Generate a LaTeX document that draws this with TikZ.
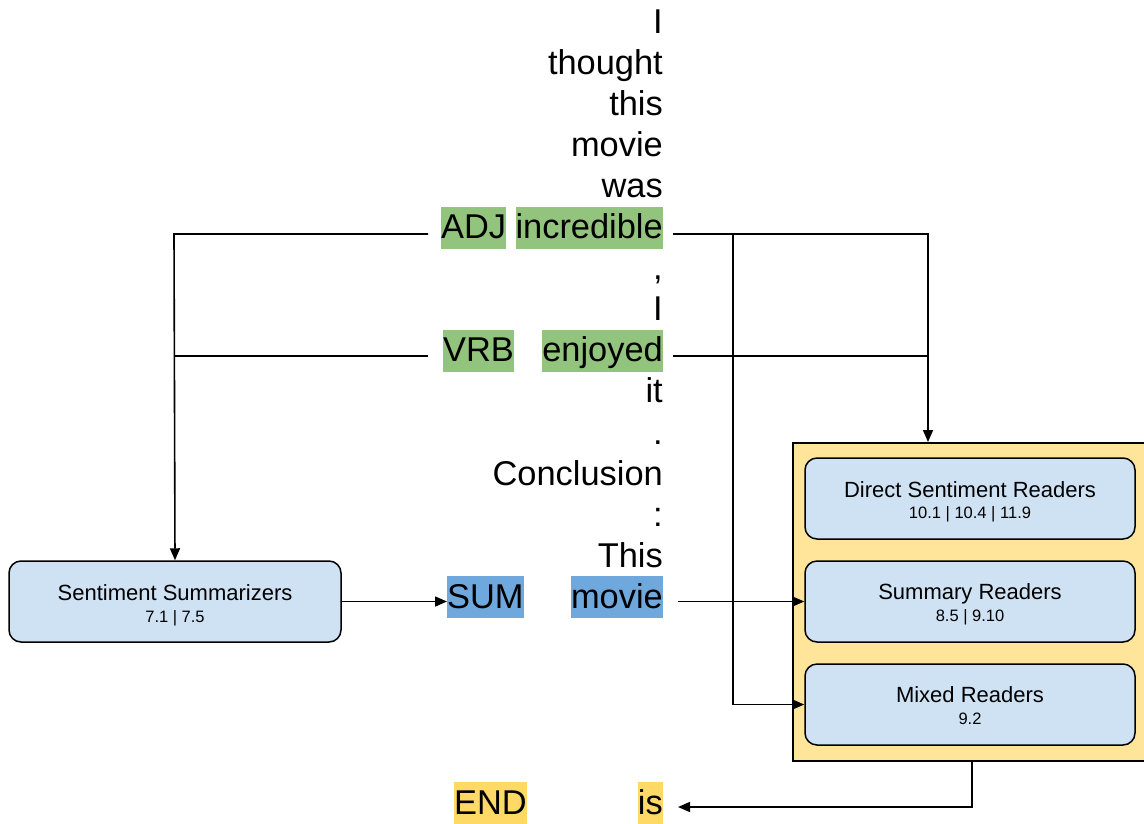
\documentclass[tikz,border=0pt]{standalone}
\usepackage{fontspec}
\setmainfont{Liberation Sans}
\usetikzlibrary{arrows.meta}
\definecolor{hlgreen}{HTML}{93C47D}
\definecolor{hlblue}{HTML}{6FA8DC}
\definecolor{hlyellow}{HTML}{FFD966}
\definecolor{contyellow}{HTML}{FFE599}
\definecolor{boxblue}{HTML}{CFE2F3}
\tikzset{
 word/.style={anchor=base east, inner sep=0pt, text height=32pt, text depth=10pt, font=\fontsize{34.4}{41}\selectfont},
 tag/.style={anchor=base west, inner sep=0pt, text height=32pt, text depth=10pt, font=\fontsize{34.4}{41}\selectfont},
 rbox/.style={draw=black, fill=boxblue, rounded corners=12pt, line width=1.5pt, minimum width=330pt, minimum height=81pt, inner sep=0pt},
 ttl/.style={anchor=base, inner sep=0pt, font=\fontsize{22}{26}\selectfont},
 nums/.style={anchor=base, inner sep=0pt, font=\fontsize{16.5}{20}\selectfont},
 conn/.style={line width=1.6pt},
 arr/.style={conn, -{Triangle[length=12pt,width=10pt]}},
}
\begin{document}
\begin{tikzpicture}[x=1pt,y=-1pt]
\useasboundingbox (0,0) rectangle (1144,823);
% container and boxes
\node[draw=black, fill=contyellow, line width=1.5pt, minimum width=358pt, minimum height=318pt, inner sep=0pt, anchor=north west] (cont) at (792,442) {};
\node[rbox] (dsr) at (970,498.5) {};
\node[ttl] (dsrT) at (970,497) {Direct Sentiment Readers};
\node[nums] (dsrN) at (970,518) {10.1 | 10.4 | 11.9};
\node[rbox] (sr) at (970,601.5) {};
\node[ttl] (srT) at (970,599) {Summary Readers};
\node[nums] (srN) at (970,621) {8.5 | 9.10};
\node[rbox] (mr) at (970,704.5) {};
\node[ttl] (mrT) at (970,702) {Mixed Readers};
\node[nums] (mrN) at (970,724) {9.2};
\node[rbox, minimum width=332pt] (summ) at (175,601.5) {};
\node[ttl] (summT) at (175,600) {Sentiment Summarizers};
\node[nums] (summN) at (175,622) {7.1 | 7.5};
% words
\node[word] (w0) at (663,33) {I};
\node[word] (w1) at (663,74.1) {thought};
\node[word] (w2) at (663,115.2) {this};
\node[word] (w3) at (663,156.3) {movie};
\node[word] (w4) at (663,197.4) {was};
\node[word, fill=hlgreen] (w5) at (663,238.5) {incredible};
\node[word] (w6) at (663,279.6) {,};
\node[word] (w7) at (663,320.7) {I};
\node[word, fill=hlgreen] (w8) at (663,361.8) {enjoyed};
\node[word] (w9) at (663,402.9) {it};
\node[word] (w10) at (663,444) {.};
\node[word] (w11) at (663,485.1) {Conclusion};
\node[word] (w12) at (663,526.2) {:};
\node[word] (w13) at (663,567.3) {This};
\node[word, fill=hlblue] (w14) at (663,608.4) {movie};
\node[word, fill=hlyellow] (w19) at (663,814) {is};
\node[tag, fill=hlgreen] (adj) at (441,238.5) {ADJ};
\node[tag, fill=hlgreen] (vrb) at (443,361.8) {VRB};
\node[tag, fill=hlblue] (sum) at (447,608.4) {SUM};
\node[tag, fill=hlyellow] (endt) at (454,814) {END};
% junction coordinates
\coordinate (adjL) at (428,234);
\coordinate (vrbL) at (428,356);
\coordinate (jL) at (174,234);
\coordinate (jLv) at (174,356);
\coordinate (incR) at (673,234);
\coordinate (enjR) at (673,356);
\coordinate (jR) at (928,234);
\coordinate (jRv) at (928,356);
\coordinate (jM) at (733,234);
\coordinate (movR) at (678,601.5);
\coordinate (isR) at (678,807);
% connectors
\draw[arr] (adjL) -- (jL) -- (summ.north);
\draw[conn] (vrbL) -- (jLv);
\draw[arr] (incR) -- (jR) -- (jR |- cont.north);
\draw[conn] (enjR) -- (jRv);
\draw[arr] (jM) |- (mr.west);
\draw[arr] (summ.east) -- (summ.east -| sum.west);
\draw[arr] (movR) -- (sr.west);
\draw[arr] (cont.south) |- (isR);
\end{tikzpicture}
\end{document}
